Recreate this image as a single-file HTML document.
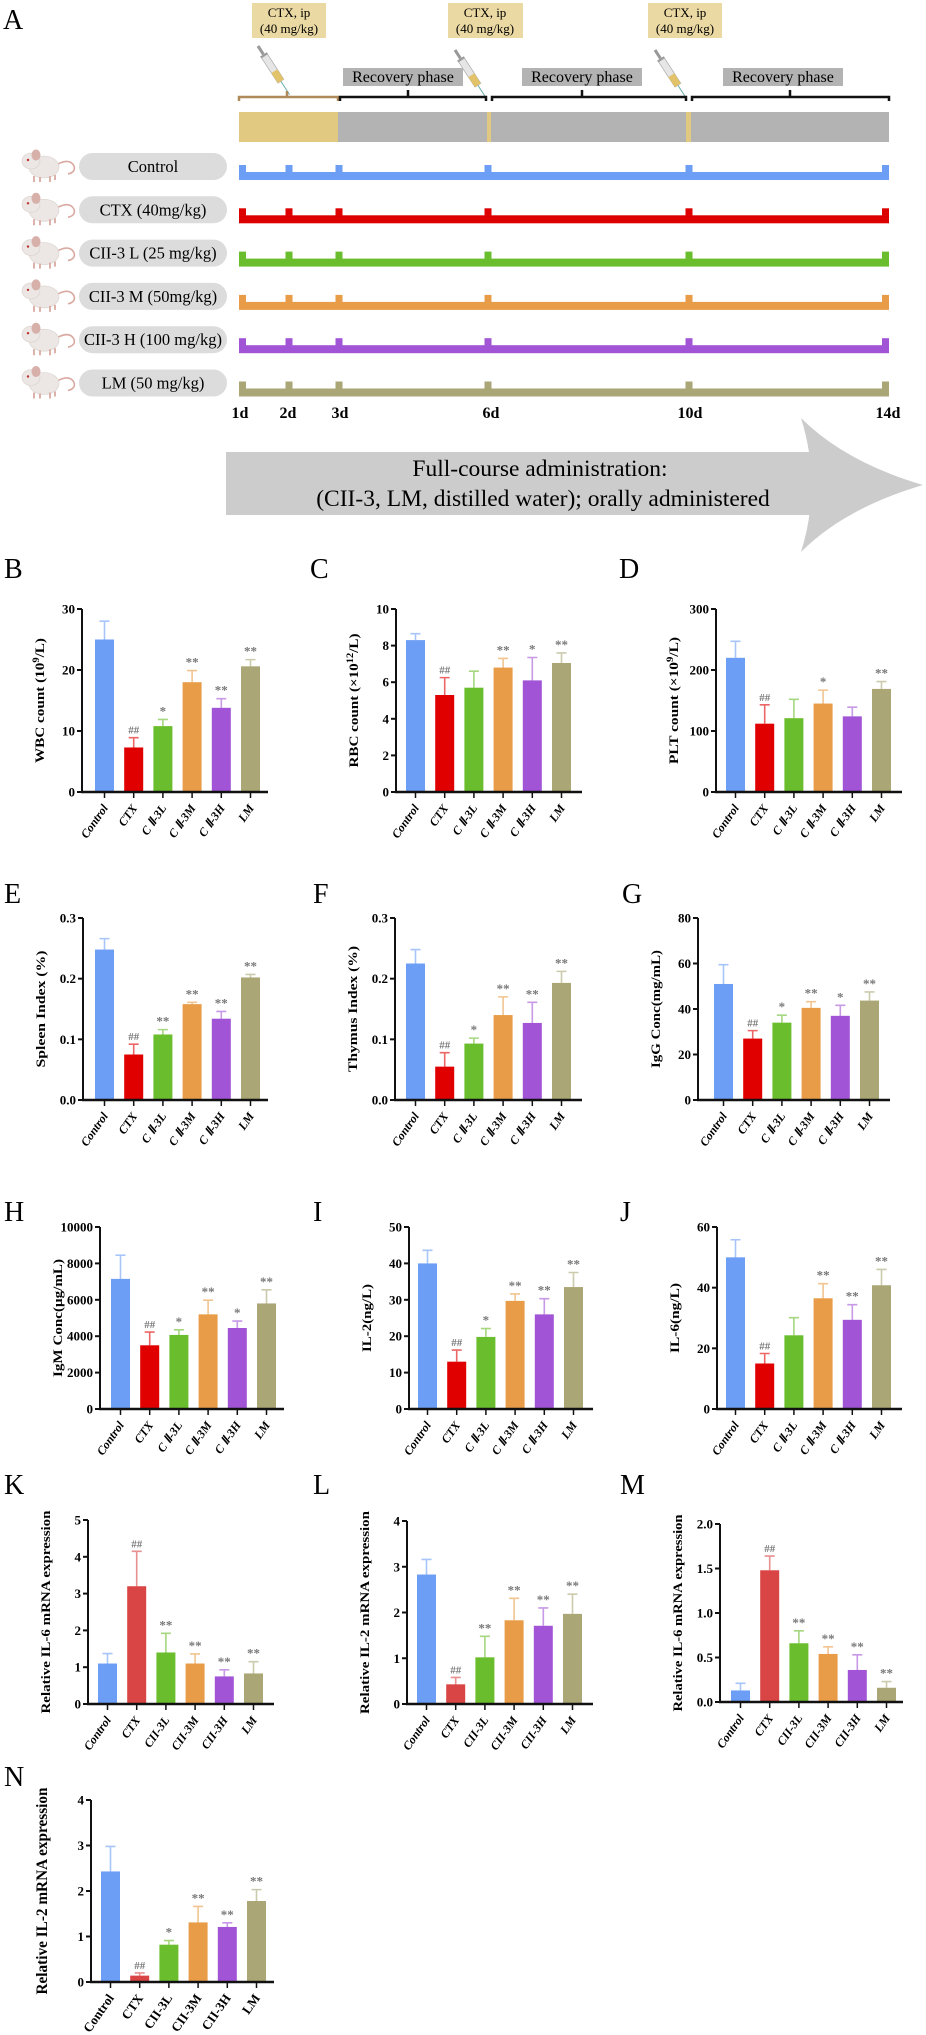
<!DOCTYPE html>
<html><head><meta charset="utf-8"><style>
html,body{margin:0;padding:0;background:#fff}
svg{display:block;font-family:"Liberation Serif",serif}
text{font-family:"Liberation Serif",serif}
</style></head><body>
<svg id="fig" width="926" height="2035" viewBox="0 0 926 2035" xmlns="http://www.w3.org/2000/svg" font-family="Liberation Serif, serif">
<g id="panelA">
<text x="3" y="29" font-size="28">A</text>
<g><rect x="252" y="3" width="74" height="35" fill="#ead9a2"/><text x="289" y="17" font-size="13" text-anchor="middle">CTX, ip</text><text x="289" y="33" font-size="13" text-anchor="middle">(40 mg/kg)</text></g>
<g><rect x="448" y="3" width="75" height="35" fill="#ead9a2"/><text x="485" y="17" font-size="13" text-anchor="middle">CTX, ip</text><text x="485" y="33" font-size="13" text-anchor="middle">(40 mg/kg)</text></g>
<g><rect x="648" y="3" width="74" height="35" fill="#ead9a2"/><text x="685" y="17" font-size="13" text-anchor="middle">CTX, ip</text><text x="685" y="33" font-size="13" text-anchor="middle">(40 mg/kg)</text></g>
<g transform="translate(258,46) rotate(57)"><rect x="0" y="-1.5" width="10" height="3" fill="#999"/><rect x="10" y="-4" width="2" height="8" fill="#999"/><rect x="12" y="-3.5" width="30" height="7" fill="#e6e6e6" stroke="#aaa" stroke-width="0.7"/><rect x="30" y="-3.5" width="12" height="7" fill="#e2c36a"/><line x1="42" y1="0" x2="58" y2="0" stroke="#6aa" stroke-width="1"/></g>
<g transform="translate(455,50) rotate(57)"><rect x="0" y="-1.5" width="10" height="3" fill="#999"/><rect x="10" y="-4" width="2" height="8" fill="#999"/><rect x="12" y="-3.5" width="30" height="7" fill="#e6e6e6" stroke="#aaa" stroke-width="0.7"/><rect x="30" y="-3.5" width="12" height="7" fill="#e2c36a"/><line x1="42" y1="0" x2="56" y2="0" stroke="#6aa" stroke-width="1"/></g>
<g transform="translate(655,50) rotate(57)"><rect x="0" y="-1.5" width="10" height="3" fill="#999"/><rect x="10" y="-4" width="2" height="8" fill="#999"/><rect x="12" y="-3.5" width="30" height="7" fill="#e6e6e6" stroke="#aaa" stroke-width="0.7"/><rect x="30" y="-3.5" width="12" height="7" fill="#e2c36a"/><line x1="42" y1="0" x2="56" y2="0" stroke="#6aa" stroke-width="1"/></g>
<g><rect x="343" y="68" width="120" height="18" fill="#b3b3b3"/><text x="403" y="82" font-size="16" text-anchor="middle">Recovery phase</text></g>
<g><rect x="522" y="68" width="120" height="18" fill="#b3b3b3"/><text x="582" y="82" font-size="16" text-anchor="middle">Recovery phase</text></g>
<g><rect x="723" y="68" width="120" height="18" fill="#b3b3b3"/><text x="783" y="82" font-size="16" text-anchor="middle">Recovery phase</text></g>
<path d="M239,101 V97 H338 V101 M287,97 V91" fill="none" stroke="#b08a5a" stroke-width="2.5"/>
<path d="M340,101 V97 H486 V101 M408,97 V90" fill="none" stroke="#111" stroke-width="2.5"/>
<path d="M492,101 V97 H686 V101 M582,97 V90" fill="none" stroke="#111" stroke-width="2.5"/>
<path d="M692,101 V97 H889 V101 M790,97 V90" fill="none" stroke="#111" stroke-width="2.5"/>
<g>
<rect x="239" y="112" width="650" height="30" fill="#b3b3b3"/>
<rect x="239" y="112" width="99" height="30" fill="#e1c982"/>
<rect x="487" y="112" width="4" height="30" fill="#e1c982"/>
<rect x="686" y="112" width="5" height="30" fill="#e1c982"/>
</g>
<g id="groups"></g>
<g font-size="16" font-weight="bold" text-anchor="middle">
<text x="240" y="418">1d</text><text x="288" y="418">2d</text><text x="340" y="418">3d</text><text x="491" y="418">6d</text><text x="690" y="418">10d</text><text x="888" y="418">14d</text>
</g>
<g>
<rect x="226" y="452" width="605" height="63" fill="#cccccc"/>
<path d="M801,418 Q845,462 923,485 Q845,508 801,552 Q822,485 801,418 Z" fill="#cccccc"/>
<text x="540" y="476" font-size="23.5" text-anchor="middle">Full-course administration:</text>
<text x="543" y="506" font-size="23.5" text-anchor="middle">(CII-3, LM, distilled water); orally administered</text>
</g>
</g>
<g id="charts"></g>
</svg>
<script>
const NS='http://www.w3.org/2000/svg';
const groupNames=['Control','CTX (40mg/kg)','CII-3 L (25 mg/kg)','CII-3 M (50mg/kg)','CII-3 H (100 mg/kg)','LM (50 mg/kg)'];
const groupColors=['#6c9ef5','#dd0000','#6abd2c','#e89c47','#a155d6','#aaa675'];
const tickDays=[1,2,3,6,10,14];
const tickDayX=[242,289,339,488,689,885];

const catsRoman=['Control','CTX','C Ⅱ-3L','C Ⅱ-3M','C Ⅱ-3H','LM'];
const catsPlain=['Control','CTX','CII-3L','CII-3M','CII-3H','LM'];
const wbcMeans=[25,7.3,10.8,18,13.8,20.6];
const wbcErr=[28,8.9,11.9,19.9,15.3,21.7];
const wbcMarks=['','##','*','**','**','**'];
const rbcMeans=[8.3,5.3,5.7,6.8,6.1,7.05];
const rbcErr=[8.65,6.25,6.6,7.3,7.35,7.6];
const rbcMarks=['','##','','**','*','**'];
const pltMeans=[220,112,121,145,124,169];
const pltErr=[247,143,152,167,139,181];
const pltMarks=['','##','','*','','**'];
const spleenMeans=[0.248,0.075,0.108,0.158,0.134,0.202];
const spleenErr=[0.266,0.092,0.116,0.161,0.146,0.207];
const spleenMarks=['','##','**','**','**','**'];
const thymusMeans=[0.225,0.055,0.093,0.14,0.127,0.193];
const thymusErr=[0.248,0.078,0.102,0.17,0.161,0.212];
const thymusMarks=['','##','*','**','**','**'];
const iggMeans=[51,27,34,40.5,37,43.7];
const iggErr=[59.5,30.5,37.3,43.2,41.6,47.5];
const iggMarks=['','##','*','**','*','**'];
const igmMeans=[7150,3500,4070,5200,4450,5800];
const igmErr=[8450,4230,4350,5980,4830,6550];
const igmMarks=['','##','*','**','*','**'];
const il2Means=[40,13,19.8,29.7,26,33.5];
const il2Err=[43.6,16.2,22.1,31.6,30.3,37.5];
const il2Marks=['','##','*','**','**','**'];
const il6Means=[50,15,24.3,36.5,29.4,40.8];
const il6Err=[55.8,18.3,30.1,41.3,34.4,46];
const il6Marks=['','##','','**','**','**'];
const kMeans=[1.1,3.2,1.4,1.1,0.75,0.83];
const kErr=[1.37,4.15,1.92,1.36,0.93,1.15];
const kMarks=['','##','**','**','**','**'];
const lMeans=[2.83,0.43,1.02,1.83,1.71,1.97];
const lErr=[3.16,0.58,1.48,2.31,2.1,2.4];
const lMarks=['','##','**','**','**','**'];
const mMeans=[0.13,1.48,0.66,0.54,0.36,0.16];
const mErr=[0.21,1.64,0.8,0.62,0.53,0.23];
const mMarks=['','##','**','**','**','**'];
const nMeans=[2.43,0.14,0.82,1.31,1.21,1.78];
const nErr=[2.98,0.2,0.91,1.66,1.3,2.03];
const nMarks=['','##','*','**','**','**'];
const ticks30=[0,10,20,30];
const ticks10=[0,2,4,6,8,10];
const ticks300=[0,100,200,300];
const ticks03=[0,0.1,0.2,0.3];
const ticks03Labels=['0.0','0.1','0.2','0.3'];
const ticks80=[0,20,40,60,80];
const ticks10k=[0,2000,4000,6000,8000,10000];
const ticks50=[0,10,20,30,40,50];
const ticks60=[0,20,40,60];
const ticks5=[0,1,2,3,4,5];
const ticks4=[0,1,2,3,4];
const ticks2=[0,0.5,1,1.5,2];
const ticks2Labels=['0.0','0.5','1.0','1.5','2.0'];

function mk(tag,attrs,parent){const e=document.createElementNS(NS,tag);for(const k in attrs)e.setAttribute(k,attrs[k]);if(parent)parent.appendChild(e);return e;}

const G=document.getElementById('groups');
groupNames.forEach((nm,i)=>{
  const ly=172+i*43.3;
  const row=mk('g',{},G);
  
  
  const m=mk('g',{transform:`translate(20,${ly-22})`},row);
  
  
  mk('path',{d:'M38,14 q12,-6 16,2 q2,6 -6,8',fill:'none',stroke:'#d9a9a0','stroke-width':'1.6'},m);
  mk('ellipse',{cx:'24',cy:'17',rx:'15',ry:'11',fill:'#ece7e4',stroke:'#d8d0cc','stroke-width':'0.6'},m);
  mk('ellipse',{cx:'11',cy:'11',rx:'9',ry:'8',fill:'#ece7e4',stroke:'#d8d0cc','stroke-width':'0.6'},m);
  mk('ellipse',{cx:'16',cy:'5',rx:'4.5',ry:'5.5',fill:'#d7b0aa'},m);
  mk('circle',{cx:'8',cy:'10',r:'1.2',fill:'#b33'},m);
  mk('path',{d:'M14,26 v6 M20,27 v5 M30,26 v6 M35,25 v5',stroke:'#d9a9a0','stroke-width':'1.8'},m);
  const pill=mk('g',{},row);
  
  
  mk('rect',{x:'79',y:ly-19,width:'148',height:'27',rx:'13.5',fill:'#dcdcdc'},pill);
  const t=mk('text',{x:'153',y:ly,'font-size':'16.5','text-anchor':'middle'},pill);
  t.textContent=nm;
  const ln=mk('g',{fill:groupColors[i]},row);
  
  
  mk('rect',{x:'239',y:ly,width:'650',height:'8'},ln);
  tickDayX.forEach((tx,j)=>{
    const tk=mk('rect',{x:(j===0?239:(j===tickDayX.length-1?882:tx-3.5)),y:ly-7,width:'7',height:'8'},ln);
    
    
  });
});

const barColors=['#6c9ef5','#e00000','#6abd2c','#e89c47','#a155d6','#aaa675'];
const barColors2=['#6c9ef5','#d94444','#6abd2c','#e89c47','#a155d6','#aaa675'];
const panels=[
 {id:'b',L:'B',lx:4,ly:578,ax:82,fb:95,top:609,base:792,end:268,max:30,tv:ticks30,means:wbcMeans,err:wbcErr,marks:wbcMarks,cats:catsRoman,title:['WBC count (10','9','/L)'],tl:125,col:barColors,it:true},
 {id:'c',L:'C',lx:310,ly:578,ax:396,fb:406,top:609,base:792,end:582,max:10,tv:ticks10,means:rbcMeans,err:rbcErr,marks:rbcMarks,cats:catsRoman,title:['RBC count (×10','12','/L)'],tl:134,col:barColors,it:true},
 {id:'d',L:'D',lx:619,ly:578,ax:716,fb:726,top:609,base:792,end:902,max:300,tv:ticks300,means:pltMeans,err:pltErr,marks:pltMarks,cats:catsRoman,title:['PLT count (×10','9','/L)'],tl:127,col:barColors,it:true},
 {id:'e',L:'E',lx:4,ly:903,ax:83,fb:95,top:918,base:1100,end:268,max:0.3,tv:ticks03,tl2:ticks03Labels,means:spleenMeans,err:spleenErr,marks:spleenMarks,cats:catsRoman,title:['Spleen  Index (%)'],tl:117,col:barColors,it:true},
 {id:'f',L:'F',lx:313,ly:903,ax:395,fb:406,top:918,base:1100,end:582,max:0.3,tv:ticks03,tl2:ticks03Labels,means:thymusMeans,err:thymusErr,marks:thymusMarks,cats:catsRoman,title:['Thymus  Index (%)'],tl:126,col:barColors,it:true},
 {id:'g',L:'G',lx:622,ly:903,ax:698,fb:714,top:918,base:1100,end:890,max:80,tv:ticks80,means:iggMeans,err:iggErr,marks:iggMarks,cats:catsRoman,title:['IgG Conc(mg/mL)'],tl:118,col:barColors,it:true},
 {id:'h',L:'H',lx:4,ly:1221,ax:100,fb:111,top:1227,base:1409,end:284,max:10000,tv:ticks10k,means:igmMeans,err:igmErr,marks:igmMarks,cats:catsRoman,title:['IgM Conc(μg/mL)'],tl:118,col:barColors,it:true},
 {id:'i',L:'I',lx:313,ly:1221,ax:409,fb:418,top:1227,base:1409,end:593,max:50,tv:ticks50,means:il2Means,err:il2Err,marks:il2Marks,cats:catsRoman,title:['IL-2(ng/L)'],tl:68,col:barColors,it:true},
 {id:'j',L:'J',lx:620,ly:1221,ax:717,fb:726,top:1227,base:1409,end:902,max:60,tv:ticks60,means:il6Means,err:il6Err,marks:il6Marks,cats:catsRoman,title:['IL-6(ng/L)'],tl:70,col:barColors,it:true},
 {id:'k',L:'K',lx:4,ly:1494,ax:88,fb:98,top:1520,base:1704,end:274,max:5,tv:ticks5,means:kMeans,err:kErr,marks:kMarks,cats:catsPlain,title:['Relative IL-6 mRNA expression'],tl:203,col:barColors2,it:true},
 {id:'l',L:'L',lx:313,ly:1494,ax:407,fb:417,top:1521,base:1704,end:593,max:4,tv:ticks4,means:lMeans,err:lErr,marks:lMarks,cats:catsPlain,title:['Relative IL-2 mRNA expression'],tl:203,col:barColors2,it:true},
 {id:'m',L:'M',lx:620,ly:1494,ax:720,fb:731,top:1524,base:1702,end:903,max:2,tv:ticks2,tl2:ticks2Labels,means:mMeans,err:mErr,marks:mMarks,cats:catsPlain,title:['Relative IL-6 mRNA expression'],tl:197,col:barColors2,it:true},
 {id:'n',L:'N',lx:4,ly:1786,ax:91,fb:101,top:1800,base:1982,end:274,max:4,tv:ticks4,means:nMeans,err:nErr,marks:nMarks,cats:catsPlain,title:['Relative IL-2 mRNA expression'],tl:207,col:barColors2,it:false,big:true}
];
const C=document.getElementById('charts');
panels.forEach(p=>{
  const g=mk('g',{},C);
  
  
  const sy=v=>p.base-(v/p.max)*(p.base-p.top);
  const bx=i=>p.fb+i*29.2;
  const bw=19;
  const lab=mk('text',{x:p.lx,y:p.ly,'font-size':'28'},g);
  lab.textContent=p.L;
  
  
  p.tv.forEach((v,k)=>{
    const y=sy(v);
    const tk=mk('line',{x1:p.ax-5,x2:p.ax,y1:y,y2:y,stroke:'#111','stroke-width':'2'},g);
    
    
    const tt=mk('text',{x:p.ax-7,y:y+4.5,'font-size':'13','font-weight':'bold','text-anchor':'end'},g);
    tt.textContent=p.tl2?p.tl2[k]:String(v);
    
    
  });
  p.means.forEach((v,i)=>{
    const x=bx(i),cx=x+bw/2;
    const b=mk('rect',{x:x,y:sy(v),width:bw,height:p.base-sy(v),fill:p.col[i]},g);
    
    
    const e=mk('path',{d:`M${cx},${sy(v)} V${sy(p.err[i])} M${cx-5},${sy(p.err[i])} H${cx+5}`,stroke:p.col[i],'stroke-opacity':'0.6','stroke-width':'1.6',fill:'none'},g);
    
    
    if(p.marks[i]){
      const m=mk('text',{x:cx,y:sy(p.err[i])-4,'font-size':p.marks[i]==='##'?'11':'13','font-weight':'bold',fill:'#777','text-anchor':'middle'},g);
      m.textContent=p.marks[i];
      
      
    }
    const xt=mk('line',{x1:cx,x2:cx,y1:p.base,y2:p.base+6,stroke:'#111','stroke-width':'1.5'},g);
    
    
    const xl=mk('text',{x:cx+4,y:p.base+16,'font-size':p.big?'13':'12','font-weight':'bold','font-style':p.it?'italic':'normal','text-anchor':'end',transform:`rotate(-55 ${cx+4} ${p.base+16})`},g);
    xl.textContent=p.cats[i];
    
    
  });
  const ya=mk('line',{x1:p.ax,x2:p.ax,y1:p.top,y2:p.base,stroke:'#111','stroke-width':'2'},g);
  
  
  const xa=mk('line',{x1:p.ax-1,x2:p.end,y1:p.base,y2:p.base,stroke:'#111','stroke-width':'2.6'},g);
  
  
  const ty=(p.top+p.base)/2, tx=p.ax-(p.big?44:38);
  const t=mk('text',{x:tx,y:ty,'font-size':p.big?'16':'13','font-weight':'bold','text-anchor':'middle',textLength:p.tl,lengthAdjust:'spacingAndGlyphs',transform:`rotate(-90 ${tx} ${ty})`},g);
  
  
  if(p.title.length===3){
    const a=mk('tspan',{},t);a.textContent=p.title[0];
    const s=mk('tspan',{dy:'-5','font-size':'9'},t);s.textContent=p.title[1];
    const c=mk('tspan',{dy:'5'},t);c.textContent=p.title[2];
  } else t.textContent=p.title[0];
});
</script>
</body></html>
